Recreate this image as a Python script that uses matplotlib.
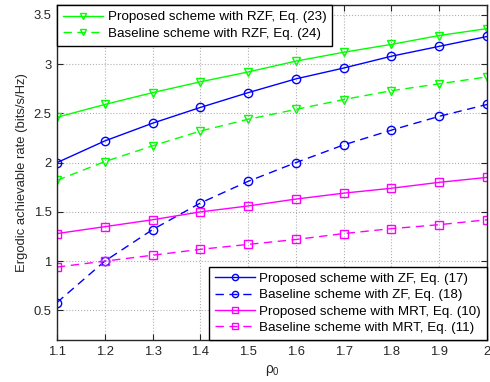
import matplotlib
matplotlib.use('Agg')
import matplotlib.pyplot as plt

plt.rcParams['font.family'] = ['Liberation Sans', 'DejaVu Sans']
plt.rcParams['mathtext.fontset'] = 'custom'
plt.rcParams['mathtext.rm'] = 'Liberation Sans'
plt.rcParams['mathtext.default'] = 'regular'

rho = [1.1, 1.2, 1.3, 1.4, 1.5, 1.6, 1.7, 1.8, 1.9, 2.0]

prop_rzf = [2.46, 2.59, 2.71, 2.82, 2.92, 3.03, 3.12, 3.20, 3.29, 3.36]
base_rzf = [1.82, 2.01, 2.17, 2.32, 2.44, 2.54, 2.64, 2.73, 2.80, 2.87]
prop_zf = [2.00, 2.22, 2.40, 2.56, 2.71, 2.85, 2.96, 3.08, 3.18, 3.28]
base_zf = [0.58, 1.00, 1.32, 1.59, 1.81, 2.00, 2.18, 2.33, 2.47, 2.59]
prop_mrt = [1.28, 1.35, 1.42, 1.50, 1.56, 1.63, 1.69, 1.74, 1.80, 1.85]
base_mrt = [0.94, 1.00, 1.06, 1.12, 1.17, 1.22, 1.28, 1.33, 1.37, 1.42]

labels_top = ['Proposed scheme with RZF, Eq. (23)', 'Baseline scheme with RZF, Eq. (24)']
labels_bot = ['Proposed scheme with ZF, Eq. (17)', 'Baseline scheme with ZF, Eq. (18)',
              'Proposed scheme with MRT, Eq. (10)', 'Baseline scheme with MRT, Eq. (11)']

green = '#00ff00'
blue = '#0000ff'
magenta = '#ff00ff'
fs = 9.4
lfs = 9.6

fig = plt.figure(figsize=(4.9, 3.82), dpi=100)
ax = fig.add_axes([0.1163, 0.110, 0.8777, 0.877])

kw = dict(lw=1.0, ms=6, mfc='none', mew=1.0)
l1, = ax.plot(rho, prop_rzf, '-v', color=green, label=labels_top[0], **kw)
l2, = ax.plot(rho, base_rzf, '--v', color=green, label=labels_top[1], dashes=(6, 4), **kw)
l3, = ax.plot(rho, prop_zf, '-o', color=blue, label=labels_bot[0], **kw)
l4, = ax.plot(rho, base_zf, '--o', color=blue, label=labels_bot[1], dashes=(6, 4), **kw)
l5, = ax.plot(rho, prop_mrt, '-s', color=magenta, label=labels_bot[2], **kw)
l6, = ax.plot(rho, base_mrt, '--s', color=magenta, label=labels_bot[3], dashes=(6, 4), **kw)

ax.set_xlim(1.1, 2.0)
ax.set_ylim(0.2, 3.6)
ax.set_xticks(rho)
ax.set_xticklabels(['1.1', '1.2', '1.3', '1.4', '1.5', '1.6', '1.7', '1.8', '1.9', '2'])
ax.set_yticks([0.5, 1, 1.5, 2, 2.5, 3, 3.5])
ax.set_yticklabels(['0.5', '1', '1.5', '2', '2.5', '3', '3.5'])
ax.tick_params(direction='in', top=True, right=True, labelsize=fs, colors='#262626',
               length=4, pad=4)
for s in ax.spines.values():
    s.set_color('#262626')
    s.set_linewidth(1.0)
ax.grid(True, ls=':', color='#b0b0b0', lw=0.8)

ax.set_xlabel('ρ$_0$', fontsize=fs + 0.5, color='#262626')
ax.set_ylabel('Ergodic achievable rate (bits/s/Hz)', fontsize=fs, color='#262626')

lkw = dict(fontsize=lfs, fancybox=False, edgecolor='black', framealpha=1,
           handlelength=3.0, borderpad=0.45, labelspacing=0.3, handletextpad=0.35,
           borderaxespad=0.0, markerscale=0.75)
leg1 = ax.legend(handles=[l1, l2], loc='upper left', **lkw)
leg1.get_frame().set_linewidth(1.0)
ax.add_artist(leg1)
leg2 = ax.legend(handles=[l3, l4, l5, l6], loc='lower right', **lkw)
leg2.get_frame().set_linewidth(1.0)

fig.savefig('out.png', dpi=100)
